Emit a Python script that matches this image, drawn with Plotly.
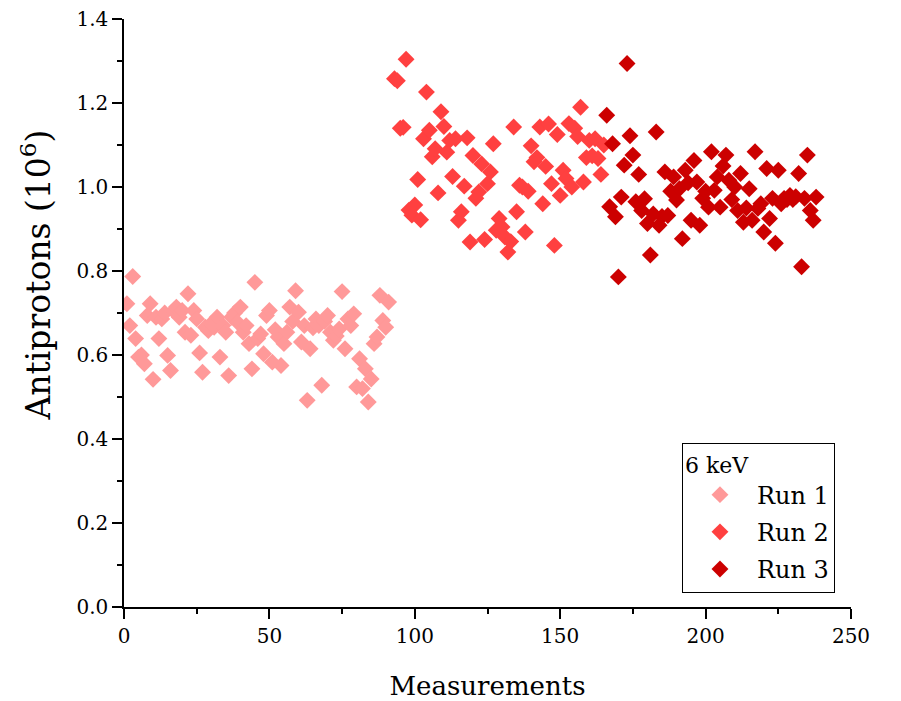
import plotly.graph_objects as go

# ---- data ----
run1_start = 1
run1_y = [0.722, 0.670, 0.787, 0.639, 0.595, 0.600, 0.579, 0.694, 0.722, 0.542,
          0.690, 0.639, 0.686, 0.700, 0.599, 0.563, 0.705, 0.714, 0.690, 0.706,
          0.654, 0.746, 0.647, 0.706, 0.686, 0.605, 0.559, 0.666, 0.658, 0.675,
          0.666, 0.690, 0.595, 0.670, 0.654, 0.551, 0.690, 0.700, 0.678, 0.714,
          0.654, 0.670, 0.627, 0.567, 0.773, 0.639, 0.650, 0.603, 0.694, 0.706,
          0.583, 0.660, 0.643, 0.575, 0.627, 0.654, 0.714, 0.680, 0.753, 0.702,
          0.631, 0.670, 0.492, 0.615, 0.665, 0.686, 0.670, 0.528, 0.680, 0.694,
          0.654, 0.635, 0.645, 0.662, 0.751, 0.615, 0.686, 0.670, 0.698, 0.524,
          0.591, 0.520, 0.567, 0.488, 0.543, 0.627, 0.643, 0.742, 0.682, 0.666,
          0.726]

run2_start = 93
run2_y = [1.258, 1.253, 1.140, 1.142, 1.304, 0.945, 0.933, 0.957, 1.018, 0.922,
          1.115, 1.226, 1.135, 1.072, 1.091, 0.986, 1.179, 1.144, 1.083, 1.111,
          1.025, 1.115, 0.921, 0.941, 1.002, 1.117, 0.869, 1.075, 0.973, 0.988,
          1.055, 0.875, 1.008, 1.036, 1.103, 0.897, 0.925, 0.905, 0.881, 0.845,
          0.870, 1.143, 0.941, 1.004, 1.000, 0.893, 0.990, 1.098, 1.060, 1.070,
          1.143, 0.960, 1.049, 1.150, 1.008, 0.861, 1.125, 0.980, 1.040, 1.020,
          1.151, 1.000, 1.140, 1.120, 1.190, 1.012, 1.070, 1.111, 1.074, 1.115,
          1.068, 1.030, 1.100]

run3_start = 166
run3_y = [1.171, 0.953, 1.103, 0.929, 0.786, 0.976, 1.052, 1.294, 1.122, 1.076,
          0.965, 1.030, 0.944, 0.972, 0.913, 0.838, 0.936, 1.131, 0.909, 0.930,
          1.036, 0.932, 0.990, 1.024, 0.969, 0.996, 0.877, 1.040, 1.010, 0.921,
          1.063, 1.012, 0.909, 0.973, 0.990, 0.952, 1.084, 0.992, 1.024, 0.952,
          1.050, 1.076, 1.016, 0.970, 1.000, 0.944, 1.032, 0.916, 0.950, 0.996,
          0.921, 1.084, 0.949, 0.960, 0.893, 1.044, 0.925, 0.973, 0.866, 1.040,
          0.960, 0.973, 0.970, 0.980, 0.970, 0.977, 1.032, 0.810, 0.973, 1.076,
          0.944, 0.921, 0.976]

run_names = ["Run 1", "Run 2", "Run 3"]
run_colors = ["#FF9999", "#FF4040", "#CC0000"]
legend_title = "6 keV"
x_title = "Measurements"
y_title = "Antiprotons (10<sup>6</sup>)"

FONT = "DejaVu Serif"

fig = go.Figure()
for name, color, start, ys in zip(run_names, run_colors,
                                  [run1_start, run2_start, run3_start],
                                  [run1_y, run2_y, run3_y]):
    xs = list(range(start, start + len(ys)))
    fig.add_trace(go.Scatter(
        x=xs, y=ys, mode="markers", name=name, legendgroup=name,
        marker=dict(symbol="diamond", size=13, color=color, line=dict(width=0)),
    ))

axis_common = dict(
    showline=True, linecolor="black", linewidth=1.5,
    ticks="outside", ticklen=10, tickwidth=1.5, tickcolor="black",
    showgrid=False, zeroline=False, mirror=False,
    tickfont=dict(family=FONT, size=20, color="black"),
)

fig.update_xaxes(
    range=[0, 250], dtick=50, tick0=0,
    minor=dict(ticks="outside", ticklen=5, dtick=25, tickwidth=1.5, tickcolor="black"),
    title=dict(text=x_title, font=dict(family=FONT, size=26, color="black"), standoff=33),
    **axis_common,
)
fig.update_yaxes(
    range=[0, 1.4], dtick=0.2, tick0=0, tickformat=".1f",
    minor=dict(ticks="outside", ticklen=5, dtick=0.1, tickwidth=1.5, tickcolor="black"),
    **axis_common,
)

# y-axis title placed as an annotation (reference places it above centre)
fig.add_annotation(
    text=y_title, textangle=-90, showarrow=False,
    xref="paper", yref="paper", x=-0.12, y=0.565,
    xanchor="center", yanchor="middle",
    font=dict(family=FONT, size=33, color="black"),
)

fig.update_layout(
    width=901, height=701,
    margin=dict(l=124, r=50, t=19, b=94, autoexpand=False),
    plot_bgcolor="white", paper_bgcolor="white",
    font=dict(family=FONT, color="black"),
    legend=dict(
        title=dict(text=legend_title, font=dict(family=FONT, size=22, color="black")),
        font=dict(family=FONT, size=24, color="black"),
        x=0.7675, y=0.279, xanchor="left", yanchor="top",
        bordercolor="black", borderwidth=1, bgcolor="white",
        itemwidth=64, tracegroupgap=3,
    ),
)

fig.write_html("out.html")
